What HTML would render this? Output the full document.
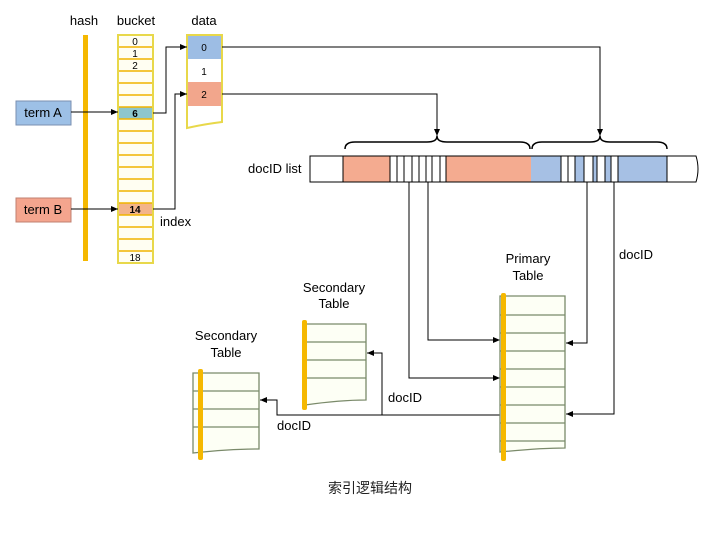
<!DOCTYPE html>
<html><head><meta charset="utf-8"><style>
html,body{margin:0;padding:0;background:#fff;}
svg{display:block;font-family:"Liberation Sans","Noto Sans CJK SC",sans-serif;}
</style></head><body>
<svg width="720" height="540" viewBox="0 0 720 540" xmlns="http://www.w3.org/2000/svg">
<defs>
<marker id="ar" markerWidth="8" markerHeight="8" refX="7" refY="3" orient="auto" markerUnits="userSpaceOnUse"><path d="M0,0 L7,3 L0,6 z" fill="#000"/></marker>
</defs>
<rect width="720" height="540" fill="#fff"/>
<g font-size="13" fill="#000">
<text x="84" y="25" text-anchor="middle">hash</text>
<text x="136" y="25" text-anchor="middle">bucket</text>
<text x="204" y="25" text-anchor="middle">data</text>
</g>
<!-- hash bar -->
<rect x="83" y="35" width="5" height="226" fill="#f5b800"/>
<!-- bucket -->
<rect x="118" y="35" width="35" height="228" fill="#fffef2" stroke="#e8d84a" stroke-width="2"/>
<rect x="119" y="107" width="33" height="12" fill="#8ec6cc"/>
<rect x="119" y="203" width="33" height="12" fill="#f3b48a"/>
<g stroke="#f0b400" stroke-width="1.5">
<line x1="119" y1="47" x2="152" y2="47"/><line x1="119" y1="59" x2="152" y2="59"/><line x1="119" y1="71" x2="152" y2="71"/><line x1="119" y1="83" x2="152" y2="83"/><line x1="119" y1="95" x2="152" y2="95"/><line x1="119" y1="107" x2="152" y2="107"/><line x1="119" y1="119" x2="152" y2="119"/><line x1="119" y1="131" x2="152" y2="131"/><line x1="119" y1="143" x2="152" y2="143"/><line x1="119" y1="155" x2="152" y2="155"/><line x1="119" y1="167" x2="152" y2="167"/><line x1="119" y1="179" x2="152" y2="179"/><line x1="119" y1="191" x2="152" y2="191"/><line x1="119" y1="203" x2="152" y2="203"/><line x1="119" y1="215" x2="152" y2="215"/><line x1="119" y1="227" x2="152" y2="227"/><line x1="119" y1="239" x2="152" y2="239"/><line x1="119" y1="251" x2="152" y2="251"/>
</g>
<g font-size="10" text-anchor="middle" fill="#000">
<text x="135" y="45">0</text><text x="135" y="57">1</text><text x="135" y="69">2</text>
<text x="135" y="117" font-weight="bold">6</text><text x="135" y="213" font-weight="bold">14</text><text x="135" y="261">18</text>
</g>
<!-- data -->
<rect x="187" y="35" width="35" height="24" fill="#9dbde4"/>
<rect x="187" y="82" width="35" height="24" fill="#f2a68c"/>
<path d="M187,35 H222 V122 Q205,124 187,128 Z" fill="none" stroke="#e8d84a" stroke-width="2"/>
<g font-size="10" text-anchor="middle"><text x="204" y="51">0</text><text x="204" y="75">1</text><text x="204" y="98">2</text></g>
<!-- terms -->
<rect x="16" y="101" width="55" height="24" fill="#9dc0e6" stroke="#7a8fb0"/>
<text x="43" y="117" font-size="13" text-anchor="middle">term A</text>
<rect x="16" y="198" width="55" height="24" fill="#f4a58e" stroke="#c08070"/>
<text x="43" y="214" font-size="13" text-anchor="middle">term B</text>
<text x="160" y="226" font-size="13">index</text>
<!-- connectors -->
<g stroke="#000" stroke-width="1" fill="none">
<path d="M71,112 H118" marker-end="url(#ar)"/>
<path d="M71,209 H118" marker-end="url(#ar)"/>
<path d="M153,113 H166 V47 H187" marker-end="url(#ar)"/>
<path d="M153,209 H175 V94 H187" marker-end="url(#ar)"/>
<path d="M222,47 H600 V136" marker-end="url(#ar)"/>
<path d="M222,94 H437 V136" marker-end="url(#ar)"/>
</g>
<!-- braces -->
<g stroke="#000" stroke-width="1.5" fill="none">
<path d="M345,149 Q345,142 355,142 L427,142 Q437,142 437,136 Q437,142 447,142 L520,142 Q530,142 530,149"/>
<path d="M532,149 Q532,142 542,142 L590,142 Q600,142 600,136 Q600,142 610,142 L657,142 Q667,142 667,149"/>
</g>
<!-- docID list -->
<text x="248" y="173" font-size="13">docID list</text>
<rect x="343" y="156" width="188" height="26" fill="#f4ab90"/>
<rect x="531" y="156" width="136" height="26" fill="#a6c0e4"/>
<g stroke="#000" stroke-width="1" fill="#fff">
<rect x="310" y="156" width="33" height="26"/>
<path d="M667,156 H696 Q700,169 696,182 H667 Z"/>
<rect x="390" y="156" width="7" height="26"/><rect x="397" y="156" width="7" height="26"/><rect x="404" y="156" width="8" height="26"/><rect x="412" y="156" width="7" height="26"/><rect x="419" y="156" width="7" height="26"/><rect x="426" y="156" width="6" height="26"/><rect x="432" y="156" width="8" height="26"/><rect x="440" y="156" width="6" height="26"/>
<rect x="561" y="156" width="7" height="26"/><rect x="568" y="156" width="7" height="26"/>
<rect x="584" y="156" width="9" height="26"/><rect x="597" y="156" width="8" height="26"/><rect x="611" y="156" width="7" height="26"/>
<line x1="343" y1="156" x2="667" y2="156"/><line x1="343" y1="182" x2="667" y2="182"/>
</g>
<g stroke="#000" stroke-width="1" fill="none">
<path d="M409,182 V378 H500" marker-end="url(#ar)"/>
<path d="M428,182 V340 H500" marker-end="url(#ar)"/>
<path d="M587,182 V343 H566" marker-end="url(#ar)"/>
<path d="M614,182 V414 H566" marker-end="url(#ar)"/>
<path d="M500,415 H382 V353 H367" marker-end="url(#ar)"/>
<path d="M382,415 H277 V400 H260" marker-end="url(#ar)"/>
</g>
<!-- primary table -->
<g font-size="13" text-anchor="middle">
<text x="528" y="263">Primary</text><text x="528" y="280">Table</text>
<text x="334" y="292">Secondary</text><text x="334" y="308">Table</text>
<text x="226" y="340">Secondary</text><text x="226" y="357">Table</text>
</g>
<text x="619" y="259" font-size="13">docID</text>
<text x="388" y="402" font-size="13">docID</text>
<text x="277" y="430" font-size="13">docID</text>
<g stroke="#7a8a6a" stroke-width="1.3" fill="#fdfff5">
<path d="M500,296 H565 V448 Q540,448 500,452 Z"/>
<path d="M305,324 H366 V400 Q340,400 305,405 Z"/>
<path d="M193,373 H259 V449 Q230,449 193,453 Z"/>
</g>
<g stroke="#7a8a6a" stroke-width="1.3">
<line x1="500" y1="315" x2="565" y2="315"/><line x1="500" y1="333" x2="565" y2="333"/><line x1="500" y1="351" x2="565" y2="351"/><line x1="500" y1="369" x2="565" y2="369"/><line x1="500" y1="387" x2="565" y2="387"/><line x1="500" y1="405" x2="565" y2="405"/><line x1="500" y1="423" x2="565" y2="423"/><line x1="500" y1="441" x2="565" y2="441"/>
<line x1="305" y1="342" x2="366" y2="342"/><line x1="305" y1="360" x2="366" y2="360"/><line x1="305" y1="378" x2="366" y2="378"/>
<line x1="193" y1="391" x2="259" y2="391"/><line x1="193" y1="409" x2="259" y2="409"/><line x1="193" y1="427" x2="259" y2="427"/>
</g>
<rect x="501" y="293" width="5" height="168" fill="#f5b800" rx="2"/>
<rect x="302" y="320" width="5" height="90" fill="#f5b800" rx="2"/>
<rect x="198" y="369" width="5" height="91" fill="#f5b800" rx="2"/>
<text x="370" y="493" font-size="14" text-anchor="middle" fill="#222">索引逻辑结构</text>
</svg>
</body></html>
